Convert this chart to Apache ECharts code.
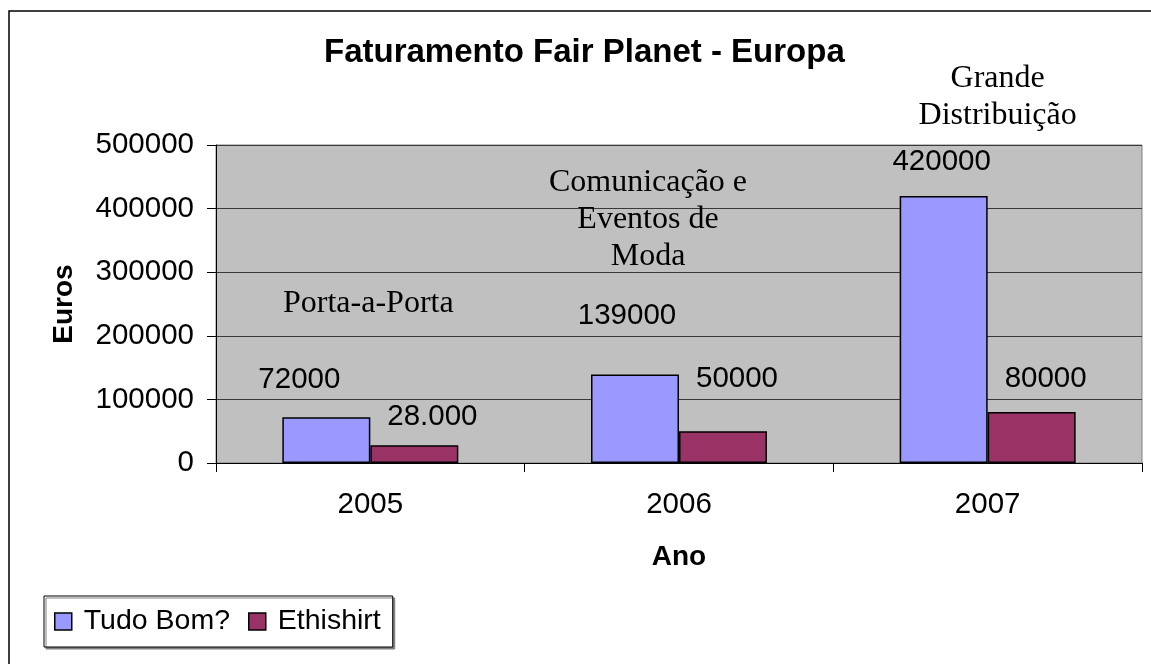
<!DOCTYPE html>
<html>
<head>
<meta charset="utf-8">
<script src="https://cdn.jsdelivr.net/npm/echarts@6/dist/echarts.min.js"></script>
<style>
  html, body { margin: 0; padding: 0; background: #fff; }
  #chart { width: 1151px; height: 664px; }
</style>
</head>
<body>
<div id="chart"></div>
<script>
const categories = ['2005', '2006', '2007'];
const seriesNames = ['Tudo Bom?', 'Ethishirt'];
const tudoBom = [72000, 139000, 420000];
const ethishirt = [28000, 50000, 80000];
const tudoBomLabels = ['72000', '139000', '420000'];
const ethishirtLabels = ['28.000', '50000', '80000'];
const annotations = ['Porta-a-Porta', 'Comunicação e\nEventos de\nModa', 'Grande\nDistribuição'];
const annotationValues = [251000, 382000, 500000];

const SANS = 'Liberation Sans, Arial, sans-serif';
const SERIF = 'Liberation Serif, Times New Roman, serif';

// label offsets (style only)
const tudoOffsets = [[-27, -22], [-8, -44], [-2, -19]];
const ethiOffsets = [[18, -13], [14, -37], [14, -18]];
const annotOffsets = [[42, 0], [13, 0], [54, -48]];

const chart = echarts.init(document.getElementById('chart'));

function barData(values, labels, offsets) {
  return values.map((v, i) => ({
    value: v,
    label: { formatter: labels[i], offset: offsets[i] }
  }));
}

const option = {
  animation: false,
  backgroundColor: '#fff',
  title: {
    text: 'Faturamento Fair Planet - Europa',
    left: 324,
    top: 36,
    padding: 0,
    textStyle: { fontFamily: SANS, fontSize: 33, fontWeight: 'bold', color: '#000' }
  },
  graphic: [{
    type: 'rect',
    shape: { x: 9, y: 11, width: 1200, height: 700 },
    style: { fill: 'none', stroke: '#000', lineWidth: 1.5 },
    silent: true, z: -10
  }],
  legend: {
    data: seriesNames,
    left: 44,
    top: 596,
    orient: 'horizontal',
    icon: 'rect',
    itemWidth: 17,
    itemHeight: 17,
    itemGap: 18,
    padding: [11, 12, 11, 10],
    backgroundColor: '#fff',
    borderColor: '#000',
    borderWidth: 1,
    shadowColor: '#808080',
    shadowOffsetX: 2,
    shadowOffsetY: 2,
    shadowBlur: 0,
    itemStyle: { borderColor: '#000', borderWidth: 1.5 },
    textStyle: { fontFamily: SANS, fontSize: 28.5, color: '#000', padding: [0, 0, 0, 7] }
  },
  grid: {
    left: 216, right: 9, top: 145, bottom: 201,
    show: true,
    backgroundColor: '#C0C0C0',
    borderColor: '#808080',
    borderWidth: 1
  },
  xAxis: {
    type: 'category',
    data: categories,
    name: 'Ano',
    nameLocation: 'middle',
    nameGap: 80,
    nameTextStyle: { fontFamily: SANS, fontSize: 28, fontWeight: 'bold', color: '#000' },
    axisLine: { show: true, lineStyle: { color: '#000', width: 1 } },
    axisTick: { show: true, length: 9, alignWithLabel: false, lineStyle: { color: '#000' } },
    axisLabel: { fontFamily: SANS, fontSize: 29.5, color: '#000', margin: 27 },
    splitLine: { show: false }
  },
  yAxis: {
    type: 'value',
    min: 0,
    max: 500000,
    interval: 100000,
    name: 'Euros',
    nameLocation: 'middle',
    nameGap: 138,
    nameRotate: 90,
    nameTextStyle: { fontFamily: SANS, fontSize: 28, fontWeight: 'bold', color: '#000' },
    axisLine: { show: true, lineStyle: { color: '#000', width: 1 } },
    axisTick: { show: true, length: 9, lineStyle: { color: '#000' } },
    axisLabel: { fontFamily: SANS, fontSize: 29.5, color: '#000', margin: 22, formatter: v => String(v) },
    splitLine: { show: true, lineStyle: { color: '#3a3a3a', width: 1 } }
  },
  series: [
    {
      name: seriesNames[0],
      type: 'bar',
      barWidth: 88,
      barGap: '0%',
      data: barData(tudoBom, tudoBomLabels, tudoOffsets),
      itemStyle: { color: '#9999FF', borderColor: '#000', borderWidth: 1.5 },
      label: { show: true, position: 'top', distance: 0, fontFamily: SANS, fontSize: 29.5, color: '#000' },
      markPoint: {
        symbol: 'circle',
        symbolSize: 0,
        silent: true,
        data: annotations.map((t, i) => ({
          coord: [categories[i], annotationValues[i]],
          label: {
            show: true,
            formatter: t,
            position: 'inside',
            offset: annotOffsets[i],
            fontFamily: SERIF,
            fontSize: 32,
            lineHeight: 37,
            align: 'center',
            verticalAlign: 'middle',
            color: '#000'
          }
        }))
      }
    },
    {
      name: seriesNames[1],
      type: 'bar',
      barWidth: 88,
      barGap: '0%',
      data: barData(ethishirt, ethishirtLabels, ethiOffsets),
      itemStyle: { color: '#993366', borderColor: '#000', borderWidth: 1.5 },
      label: { show: true, position: 'top', distance: 0, fontFamily: SANS, fontSize: 29.5, color: '#000' }
    }
  ]
};
chart.setOption(option);
</script>
</body>
</html>
